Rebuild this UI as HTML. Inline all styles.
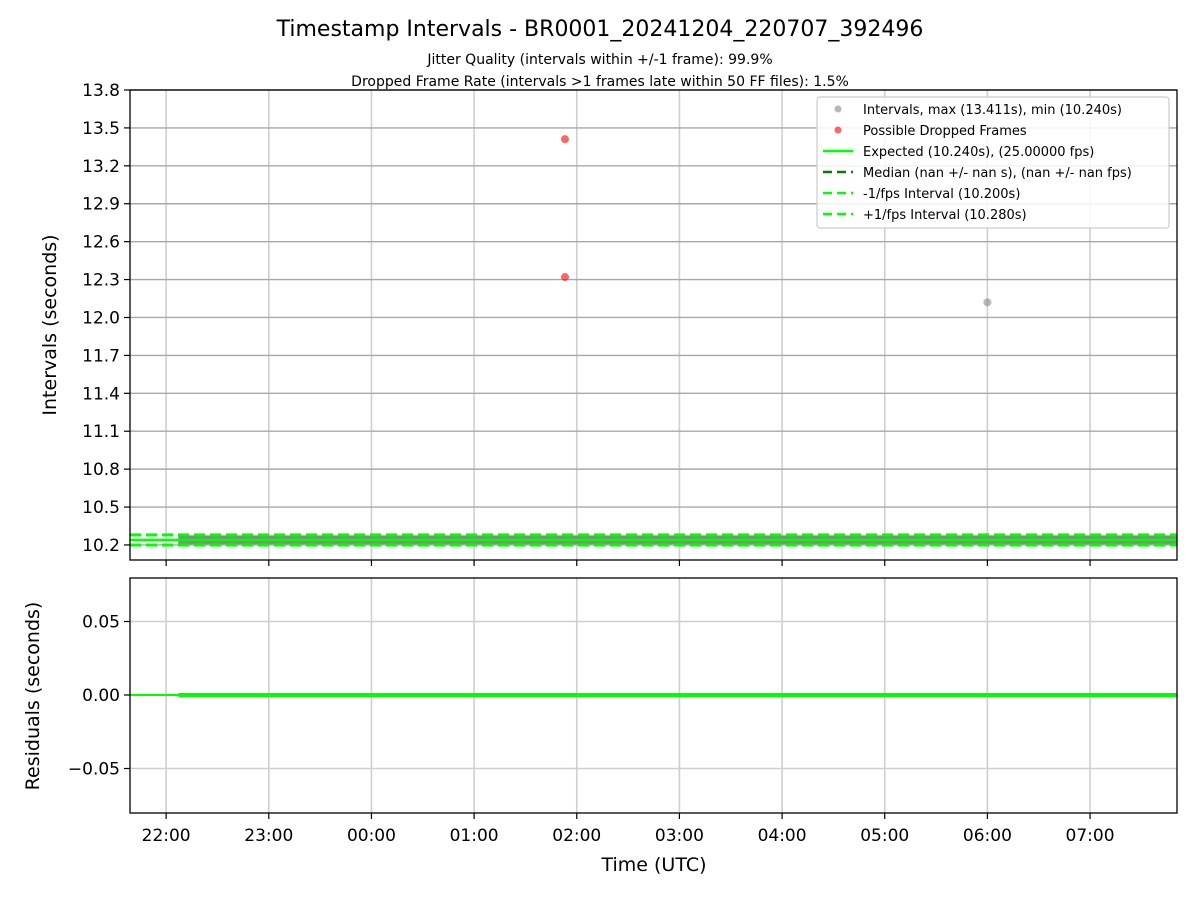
<!DOCTYPE html>
<html><head><meta charset="utf-8"><style>
html,body{margin:0;padding:0;background:#fff}
svg{display:block;font-family:"DejaVu Sans","Liberation Sans",sans-serif}
</style></head><body>
<svg id="c" width="1200" height="900" xmlns="http://www.w3.org/2000/svg">
<text x="600" y="36" text-anchor="middle" font-size="22">Timestamp Intervals - BR0001_20241204_220707_392496</text>
<text x="600" y="64" text-anchor="middle" font-size="14">Jitter Quality (intervals within +/-1 frame): 99.9%</text>
<text x="600" y="86" text-anchor="middle" font-size="14">Dropped Frame Rate (intervals &gt;1 frames late within 50 FF files): 1.5%</text>
<g id="topPlot"></g>
<g id="botPlot"></g>
<text x="654" y="871" text-anchor="middle" font-size="19">Time (UTC)</text>
<text transform="translate(56,325) rotate(-90)" text-anchor="middle" font-size="19">Intervals (seconds)</text>
<text transform="translate(39,696) rotate(-90)" text-anchor="middle" font-size="19">Residuals (seconds)</text>
<g id="legend"></g>
</svg>
<script>
// data (hours since 22:00 UTC)
const xTickHours=[0,1,2,3,4,5,6,7,8,9];
const xTickLabels=["22:00","23:00","00:00","01:00","02:00","03:00","04:00","05:00","06:00","07:00"];
const yTicks=[10.2,10.5,10.8,11.1,11.4,11.7,12.0,12.3,12.6,12.9,13.2,13.5,13.8];
const resTicks=[-0.05,0,0.05];
const resTickLabels=["\u22120.05","0.00","0.05"];
const grayTimes=[8.0];
const grayValues=[12.12];
const redTimes=[3.885,3.885];
const redValues=[13.411,12.32];
const bandStart=[0.118];
const bandEnd=[9.85];
const bandValue=[10.24];
const expected=10.24, minusInt=10.20, plusInt=10.28;
const residualValues=[0];

const NS="http://www.w3.org/2000/svg";
const L=130,R=1177,T1=90,B1=560,T2=578,B2=813;
const xMin=-0.352,xMax=9.847;
const X=h=>L+(h-xMin)/(xMax-xMin)*(R-L);
const y1Min=10.081,y1Max=13.8;
const Y1=v=>B1-(v-y1Min)/(y1Max-y1Min)*(B1-T1);
const Y2=v=>695-v/0.08*117.6;
function el(p,tag,a){const e=document.createElementNS(NS,tag);for(const k in a)e.setAttribute(k,a[k]);p.appendChild(e);return e;}
const topG=document.getElementById('topPlot'),botG=document.getElementById('botPlot');
const svgRoot=document.getElementById('c');
const clip=el(svgRoot,'clipPath',{id:'cp1'});el(clip,'rect',{x:L,y:T1,width:R-L,height:B1-T1});
const clip2=el(svgRoot,'clipPath',{id:'cp2'});el(clip2,'rect',{x:L,y:T2,width:R-L,height:B2-T2});
// grids
xTickHours.forEach((h,i)=>{
 let g=el(topG,'line',{x1:X(h),x2:X(h),y1:T1,y2:B1,stroke:'#cfcfcf','stroke-width':1.6});
 
 
 el(topG,'line',{x1:X(h),x2:X(h),y1:B1,y2:B1+6,stroke:'#000','stroke-width':1.2});
 g=el(botG,'line',{x1:X(h),x2:X(h),y1:T2,y2:B2,stroke:'#cfcfcf','stroke-width':1.6});
 
 
 el(botG,'line',{x1:X(h),x2:X(h),y1:B2,y2:B2+6,stroke:'#000','stroke-width':1.2});
 const t=el(botG,'text',{x:X(h),y:B2+28,'text-anchor':'middle','font-size':17});t.textContent=xTickLabels[i];
 
 
});
yTicks.forEach(v=>{
 const g=el(topG,'line',{x1:L,x2:R,y1:Y1(v),y2:Y1(v),stroke:'#a8a8a8','stroke-width':1.4});
 
 
 el(topG,'line',{x1:L-6,x2:L,y1:Y1(v),y2:Y1(v),stroke:'#000','stroke-width':1.2});
 const t=el(topG,'text',{x:L-10,y:Y1(v)+6,'text-anchor':'end','font-size':17});t.textContent=v.toFixed(1);
 
 
});
resTicks.forEach((v,i)=>{
 const g=el(botG,'line',{x1:L,x2:R,y1:Y2(v),y2:Y2(v),stroke:'#cfcfcf','stroke-width':1.6});
 
 
 el(botG,'line',{x1:L-6,x2:L,y1:Y2(v),y2:Y2(v),stroke:'#000','stroke-width':1.2});
 const t=el(botG,'text',{x:L-10,y:Y2(v)+6,'text-anchor':'end','font-size':17});t.textContent=resTickLabels[i];
 
 
});
const tg=el(topG,'g',{'clip-path':'url(#cp1)'});
// interval band
bandStart.forEach((s,i)=>{
 const b=el(tg,'line',{x1:X(s),x2:X(bandEnd[i]),y1:Y1(bandValue[i]),y2:Y1(bandValue[i]),stroke:'#888','stroke-width':9});
 
 
});
let e=el(tg,'line',{x1:L,x2:R,y1:Y1(expected),y2:Y1(expected),stroke:'#00ff00','stroke-width':2.5});


e=el(tg,'line',{x1:L,x2:R,y1:Y1(minusInt),y2:Y1(minusInt),stroke:'#00ff00','stroke-width':3,'stroke-dasharray':'11 5'});


e=el(tg,'line',{x1:L,x2:R,y1:Y1(plusInt),y2:Y1(plusInt),stroke:'#00ff00','stroke-width':3,'stroke-dasharray':'11 5'});


grayTimes.forEach((h,i)=>{const c=el(tg,'circle',{cx:X(h),cy:Y1(grayValues[i]),r:4,fill:'#888','fill-opacity':0.6});
 
 });
redTimes.forEach((h,i)=>{const c=el(tg,'circle',{cx:X(h),cy:Y1(redValues[i]),r:4,fill:'#ff0000','fill-opacity':0.6});
 
 });
el(topG,'rect',{x:L,y:T1,width:R-L,height:B1-T1,fill:'none',stroke:'#000','stroke-width':1.3});
// residuals
const bg=el(botG,'g',{'clip-path':'url(#cp2)'});
e=el(bg,'line',{x1:L,x2:R,y1:Y2(0),y2:Y2(0),stroke:'#00ff00','stroke-width':2});


residualValues.forEach(v=>{const r=el(bg,'line',{x1:X(bandStart[0]),x2:X(bandEnd[0]),y1:Y2(v),y2:Y2(v),stroke:'#00ff00','stroke-width':4});
 
 });
el(botG,'rect',{x:L,y:T2,width:R-L,height:B2-T2,fill:'none',stroke:'#000','stroke-width':1.3});
// legend
const lg=document.getElementById('legend');
el(lg,'rect',{x:817,y:97,width:352,height:131,rx:3,fill:'#fff','fill-opacity':0.85,stroke:'#ccc','stroke-width':1.2});
const items=[
 ['dot','#888','Intervals, max (13.411s), min (10.240s)'],
 ['dot','#ff0000','Possible Dropped Frames'],
 ['line','#00ff00','Expected (10.240s), (25.00000 fps)'],
 ['dash','#008000','Median (nan +/- nan s), (nan +/- nan fps)'],
 ['dash','#00ff00','-1/fps Interval (10.200s)'],
 ['dash','#00ff00','+1/fps Interval (10.280s)']];
items.forEach((it,i)=>{
 const y=109+i*21;
 const g=el(lg,'g',{});
 
 
 if(it[0]==='dot')el(g,'circle',{cx:838,cy:y,r:3.5,fill:it[1],'fill-opacity':0.6});
 else el(g,'line',{x1:823,x2:853,y1:y,y2:y,stroke:it[1],'stroke-width':2.5,'stroke-dasharray':it[0]==='dash'?'9 5':'none'});
 const t=el(g,'text',{x:863,y:y+5,'font-size':13});t.textContent=it[2];
});
</script>
</body></html>
